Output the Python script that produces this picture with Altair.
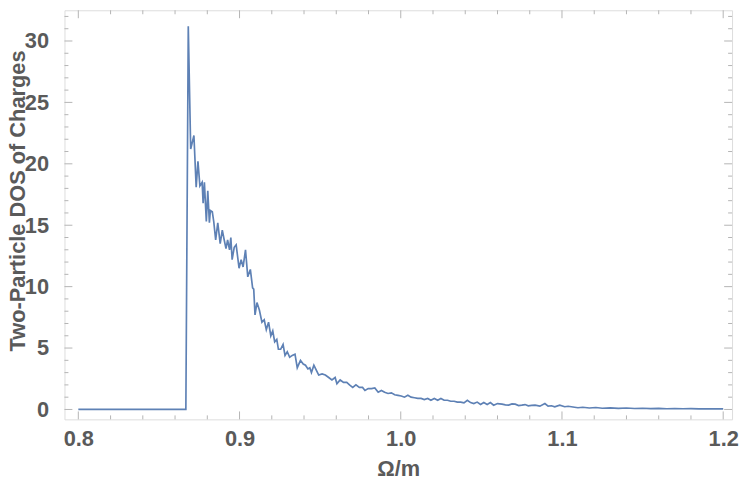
import altair as alt
import pandas as pd

omega = [0.8, 0.8667, 0.8682, 0.8697, 0.8717, 0.8731, 0.8742, 0.8754, 0.8768, 0.8774,
         0.8782, 0.8794, 0.8803, 0.8813, 0.8819, 0.8831, 0.8840, 0.8852, 0.8865, 0.8880,
         0.8893, 0.8905, 0.8916, 0.8926, 0.8938, 0.8946, 0.8954, 0.8967, 0.8979, 0.8997,
         0.9010, 0.9022, 0.9037, 0.9051, 0.9067, 0.9081, 0.9088, 0.9096, 0.9108, 0.9123,
         0.9139, 0.9153, 0.9166, 0.9180, 0.9194, 0.9206, 0.9218, 0.9231, 0.9241, 0.9255,
         0.9270, 0.9282, 0.9296, 0.9311, 0.9327, 0.9344, 0.9358, 0.9378, 0.9395, 0.9409,
         0.9424, 0.9436, 0.9446, 0.9461, 0.9476, 0.9491, 0.9512, 0.9532, 0.9553, 0.9573,
         0.9593, 0.9604, 0.9624, 0.9645, 0.9665, 0.9682, 0.9702, 0.9722, 0.9743, 0.9763,
         0.9778, 0.9798, 0.9819, 0.9839, 0.9860, 0.9880, 0.9900, 0.9921, 0.9942, 0.9962,
         0.9983, 1.0003, 1.0023, 1.0044, 1.0064, 1.0085, 1.0106, 1.0126, 1.0146, 1.0167,
         1.0187, 1.0208, 1.0229, 1.0249, 1.0269, 1.0290, 1.0310, 1.0331, 1.0351, 1.0372,
         1.0392, 1.0413, 1.0433, 1.0453, 1.0474, 1.0495, 1.0515, 1.0536, 1.0556, 1.0576,
         1.0600, 1.0628, 1.0649, 1.0669, 1.0690, 1.0710, 1.0731, 1.0751, 1.0771, 1.0791,
         1.0812, 1.0833, 1.0863, 1.0894, 1.0914, 1.0935, 1.0955, 1.0986, 1.1017, 1.1038,
         1.1058, 1.1078, 1.1099, 1.1129, 1.117, 1.121, 1.125, 1.130, 1.135, 1.140,
         1.145, 1.150, 1.155, 1.160, 1.165, 1.170, 1.175, 1.180, 1.185, 1.190,
         1.195, 1.2]
dos = [0, 0, 31.2, 21.2, 22.3, 18.1, 20.2, 18.2, 18.5, 16.8,
       18.5, 15.3, 17.8, 15.2, 16.2, 16.1, 15.3, 13.8, 15.2, 13.5,
       14.6, 13.8, 13.1, 13.8, 13.0, 14.0, 12.2, 13.2, 13.4, 11.5,
       12.2, 11.6, 13.0, 10.8, 11.4, 9.9, 9.8, 7.7, 8.7, 8.1,
       7.1, 7.3, 6.5, 7.1, 6.0, 6.4, 5.5, 5.7, 4.9, 4.9,
       5.3, 4.4, 4.7, 4.25, 4.4, 4.5, 3.4, 4.0, 3.7, 3.6,
       3.3, 3.4, 3.0, 3.6, 3.2, 2.8, 2.9, 2.8, 2.6, 2.4,
       2.6, 2.1, 2.4, 2.2, 2.2, 2.0, 1.8, 2.0, 1.8, 1.8,
       1.55, 1.7, 1.7, 1.75, 1.4, 1.55, 1.4, 1.3, 1.35, 1.2,
       1.15, 1.1, 1.0, 1.15, 1.0, 0.95, 0.9, 0.9, 0.8, 0.9,
       0.75, 0.9, 0.75, 0.9, 0.75, 0.75, 0.67, 0.67, 0.6, 0.6,
       0.54, 0.75, 0.56, 0.48, 0.6, 0.4, 0.56, 0.4, 0.56, 0.35,
       0.48, 0.43, 0.38, 0.35, 0.45, 0.43, 0.32, 0.35, 0.4, 0.3,
       0.33, 0.35, 0.27, 0.48, 0.27, 0.3, 0.22, 0.35, 0.22, 0.26,
       0.22, 0.18, 0.14, 0.18, 0.12, 0.16, 0.1, 0.13, 0.09, 0.12,
       0.08, 0.1, 0.07, 0.09, 0.06, 0.08, 0.06, 0.07, 0.05, 0.06,
       0.05, 0.05]

x_major = [0.8, 0.9, 1.0, 1.1, 1.2]
x_minor = [round(0.8 + 0.02 * i, 2) for i in range(21) if i % 5 != 0]
y_major = [0, 5, 10, 15, 20, 25, 30]
y_minor = [v for v in range(0, 33) if v % 5 != 0]

W, H = 674, 413
XDOM = [0.7914, 1.2055]
YDOM = [-0.806, 32.5]
FRAME = "#b4b4b4"
TXT = "#5a5a5a"
FONT = "Liberation Sans"

xs = alt.Scale(domain=XDOM, zero=False, nice=False)
ys = alt.Scale(domain=YDOM, zero=False, nice=False)

xaxis = alt.Axis(values=x_major, format=".1f", ticks=False, domain=False, grid=False,
                 labelFontSize=22, labelFontWeight="bold", labelColor=TXT, labelFont=FONT,
                 labelPadding=9, titleFontSize=22, titleFontWeight="bold", titleColor=TXT,
                 titleFont=FONT, titlePadding=10, labelFlush=False)
yaxis = alt.Axis(values=y_major, format="d", ticks=False, domain=False, grid=False,
                 labelFontSize=22, labelFontWeight="bold", labelColor=TXT, labelFont=FONT,
                 labelPadding=16, titleFontSize=22, titleFontWeight="bold", titleColor=TXT,
                 titleFont=FONT, titleX=-40, titleY=192, titleBaseline="alphabetic",
                 titleAngle=270, labelFlush=False)
XT = "Ω/m"
YT = "Two-Particle DOS of Charges"

df = pd.DataFrame({"omega": omega, "dos": dos})

line = alt.Chart(df).mark_line(color="#5E81B5", strokeWidth=1.7, clip=True).encode(
    x=alt.X("omega:Q", scale=xs, title=XT, axis=xaxis),
    y=alt.Y("dos:Q", scale=ys, title=YT, axis=yaxis),
)

def xticks(vals, length):
    d = pd.DataFrame({"omega": vals})
    bottom = alt.Chart(d).mark_rule(color=FRAME, strokeWidth=1).encode(
        x=alt.X("omega:Q", scale=xs, title=XT, axis=xaxis), y=alt.value(H), y2=alt.value(H - length))
    top = alt.Chart(d).mark_rule(color=FRAME, strokeWidth=1).encode(
        x=alt.X("omega:Q", scale=xs, title=XT, axis=xaxis), y=alt.value(0), y2=alt.value(length))
    return [bottom, top]

def yticks(vals, length):
    d = pd.DataFrame({"dos": vals})
    left = alt.Chart(d).mark_rule(color=FRAME, strokeWidth=1).encode(
        y=alt.Y("dos:Q", scale=ys, title=YT, axis=yaxis), x=alt.value(0), x2=alt.value(length))
    right = alt.Chart(d).mark_rule(color=FRAME, strokeWidth=1).encode(
        y=alt.Y("dos:Q", scale=ys, title=YT, axis=yaxis), x=alt.value(W), x2=alt.value(W - length))
    return [left, right]

layers = [line] + xticks(x_major, 8) + xticks(x_minor, 4) + yticks(y_major, 8) + yticks(y_minor, 4)

chart = alt.layer(*layers).properties(
    width=W, height=H,
    autosize=alt.AutoSizeParams(type="none"),
    padding={"left": 57, "top": 0, "right": 7, "bottom": 68},
).configure_view(stroke=FRAME, strokeWidth=1.2).configure(background="white")

chart.save("out.html", embed_options={"renderer": "svg", "actions": False})
